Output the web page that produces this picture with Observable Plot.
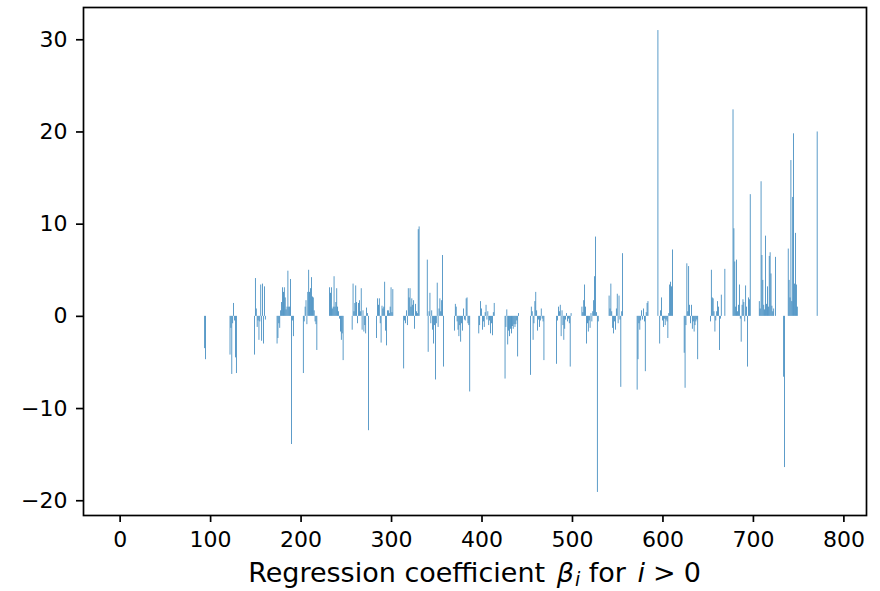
<!DOCTYPE html>
<html><head><meta charset="utf-8">
<script src="https://cdn.jsdelivr.net/npm/d3@7"></script>
<script src="https://cdn.jsdelivr.net/npm/@observablehq/plot@0.6"></script>
<style>html,body{margin:0;padding:0;background:#fff;}</style>
</head><body><div id="chart"></div>
<script>
// Runs of consecutive coefficient indices: first index of each run ...
const blockStart = [94, 122, 149, 174, 203, 232, 257, 284, 314, 340, 370, 397, 426, 454, 483, 511, 541, 572, 595, 624, 653, 678, 707, 734, 739, 771];
// ... and the coefficient values beta_i in that run
const blockBeta = [
  [-3.5, -4.7],
  [-4.2, -1.3, -6.3, -0.8, 1.4, -0.5, -4.5, -6.2],
  [-4.2, 4.1, 0.8, -1.2, -0.5, -2.6, -0.6, 3.4, -2.7, 3.5, -3.0, 3.2, -0.4],
  [-3.0, -2.4, -0.8, -1.3, 0.6, 1.5, 3.1, 2.6, 3.1, 2.0, 0.7, 1.0, 4.9, 1.0, 1.0, 4.0, -13.9, -0.5, -2.2],
  [-6.2, -0.6, 1.0, 1.7, -0.9, 2.6, 5.0, 2.6, 3.0, 4.2, 2.1, 2.0, 0.6, -0.6, -0.9, -3.7],
  [3.1, 2.5, 3.1, 0.8, 1.0, 4.3, 1.0, 1.5, 3.0, 1.0, 0.5, -0.3, -1.7, -2.6, -1.9, -4.8],
  [-1.5, 3.5, 0.5, 1.4, 3.3, 1.5, -0.8, 1.4, 1.7, 0.5, 3.0, -1.5, 0.6, -1.7, -1.0, -1.9, 0.9, 0.3, -12.4],
  [-2.4, 1.9, 1.2, 1.9, -0.8, -2.9, 1.1, 0.8, 1.0, 3.7, -1.6, -3.2, 0.6, 0.6, 0.3, 1.0, 3.1, 0.4, 2.9],
  [-5.7, -0.5, -0.8, 0.6, -1.0, 3.0, 2.0, 3.0, 1.0, 1.9, 1.2, 1.7, -1.4, 1.3, 0.5, 0.3, 9.4, 9.7],
  [6.1, -3.9, 0.5, 2.5, -0.8, 0.6, -1.5, -3.0, -1.0, -6.9, -0.8, 3.6, -1.2, 0.8, 1.9, 0.5, 1.7, 6.6, -5.5],
  [-1.6, 1.3, 1.0, -0.6, -1.5, -2.2, -1.0, -2.8, -0.8, -1.6, 0.8, -0.4, -0.5, 1.9, 2.0, -0.8, -1.0, -8.2],
  [-1.9, -1.0, 1.6, 0.8, -1.5, -0.6, -1.2, 0.4, 1.2, -0.4, 0.5, -1.0, -0.5, -1.9, -0.8, -2.1, 0.4, 1.4],
  [-6.8, -1.2, 0.7, -3.1, -1.6, -2.2, -1.4, -1.9, -1.1, -1.4, -0.9, -1.2, -0.9, -0.5, -4.4, 0.3],
  [-6.4, 1.0, 0.5, -2.6, -0.8, 1.6, 2.6, 0.6, -1.6, -0.4, -1.2, -0.5, 0.8, -0.3, -0.6, -4.8],
  [-5.2, -0.5, 1.0, 0.5, 1.2, -2.2, 0.6, -1.0, -2.6, -1.4, -0.4, 0.3, -0.6, -0.3, -0.8, -5.5, 0.3],
  [1.0, 0.4, 1.7, 3.4, 1.0, -3.0, -0.8, -1.7, -0.5, -1.3, 0.3, -0.6, 0.5, 1.7, 4.3, 8.6, 0.4, -19.1, -0.6],
  [2.2, 0.8, 3.5, 0.5, -1.3, -1.9, -0.6, -1.5, 0.8, 2.4, -0.8, 2.2, -0.4, -7.7, 0.5, 6.8],
  [-8.0, -4.7, -0.8, -1.5, -0.5, 0.6, -0.4, 0.8, -0.6, -6.0, 0.4, 1.4, 1.6],
  [31.0, 0, -3.0, 0.6, 2.0, -0.5, -1.2, -0.3, -1.0, -0.4, -0.6, -2.4, 0.3, 3.4, 3.7, 3.2, 7.2],
  [-4.0, -7.8, -1.0, 5.7, 0.5, 5.4, 1.2, -0.8, 1.2, -1.4, -0.6, -1.7, -1.0, -0.6, -0.4, -4.7],
  [-0.6, 5.0, 2.0, 1.9, 0.5, -1.7, -0.5, 0.5, 1.6, 1.0, -3.7, -0.3, 2.3, 0, 0, 0, 5.1],
  [22.4, 9.5, 5.9, 1.0, 6.1, 0.5, 1.2, 3.4, -0.3, -2.8, 1.2, 1.8, 1.5, -0.6, 3.3, 1.0, -5.5, 2.0, 1.8, 13.2],
  [1.6, 0.8, 14.6, 6.6, 3.9, 1.2, 0.7, 8.7, 1.3, 3.2, 1.0, 6.5, 6.9, 4.6, 1.1, 0.5, 0.8, 0, 6.4],
  [-6.6, -16.4],
  [7.3, 3.9, 2.0, 16.9, 1.6, 12.9, 19.8, 3.5, 9.0, 3.4, 1.0],
  [20.0]
];
const xTicks = [0, 100, 200, 300, 400, 500, 600, 700, 800];
const yTicks = [-20, -10, 0, 10, 20, 30];

const coefs = [];
blockStart.forEach((s, b) => blockBeta[b].forEach((v, k) => coefs.push({i: s + k, beta: v})));
const bars = coefs.filter(d => d.beta !== 0);

const fmt = d => d < 0 ? "\u2212" + Math.abs(d) : String(d);
const FONT = "'DejaVu Sans', 'Noto Sans', sans-serif";

const chart = Plot.plot({
  width: 880, height: 591,
  marginLeft: 83, marginRight: 14, marginTop: 7, marginBottom: 76,
  style: {fontFamily: FONT, fontSize: "22px", background: "#fff", color: "#000", overflow: "visible"},
  x: {domain: [-40.5, 825]},
  y: {domain: [-21.6, 33.5]},
  marks: [
    Plot.rect(bars, {x1: d => d.i - 0.4, x2: d => d.i + 0.4, y1: 0, y2: "beta", fill: "#1f77b4"}),
    Plot.frame({stroke: "#000", strokeWidth: 1.7}),
    Plot.axisX(xTicks, {tickSize: 7, tickPadding: 9, strokeWidth: 1.7, label: null, tickFormat: fmt, fontSize: 22}),
    Plot.axisY(yTicks, {tickSize: 7, tickPadding: 9, strokeWidth: 1.7, label: null, tickFormat: fmt, fontSize: 22})
  ]
});
document.getElementById("chart").appendChild(chart);

// x-axis label with math italics
const t = d3.select(chart).append("text")
  .attr("x", 474.5).attr("y", 582)
  .attr("text-anchor", "middle")
  .style("font-family", FONT).style("font-size", "27px").attr("fill", "#000");
t.append("tspan").text("Regression coefficient ");
t.append("tspan").attr("font-style", "italic").attr("dx", 3).text("\u03B2");
t.append("tspan").attr("font-style", "italic").attr("font-size", "19px").attr("dy", "4").attr("dx", 1).text("i");
t.append("tspan").attr("dy", "-4").text(" for ");
t.append("tspan").attr("font-style", "italic").attr("dx", 3).text("i");
t.append("tspan").attr("dx", 8).text(">");
t.append("tspan").attr("dx", 8).text("0");
</script>
</body></html>
